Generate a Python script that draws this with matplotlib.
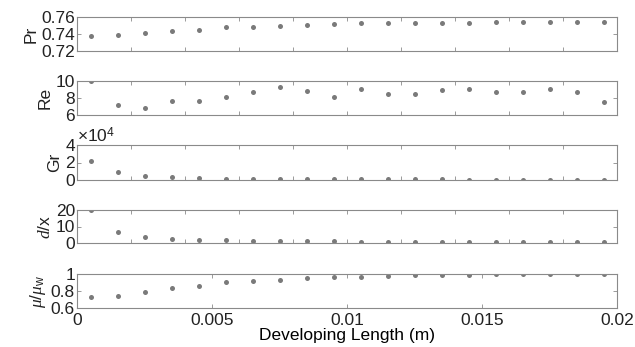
import numpy as np
import matplotlib.pyplot as plt

plt.rcParams['font.family'] = ['Liberation Sans', 'DejaVu Sans']
plt.rcParams['mathtext.fontset'] = 'custom'
plt.rcParams['mathtext.it'] = 'Liberation Serif:italic'
plt.rcParams['mathtext.rm'] = 'Liberation Sans'

# developing length positions (m)
x = np.arange(0.0005, 0.02, 0.001)

pr = [0.738, 0.7392, 0.7408, 0.7435, 0.7447, 0.7478, 0.7486, 0.7498, 0.751, 0.7522,
      0.7525, 0.7525, 0.753, 0.7533, 0.7533, 0.7537, 0.7537, 0.7537, 0.7541, 0.7541]
re = [10.0, 7.18, 6.82, 7.6, 7.65, 8.16, 8.67, 9.33, 8.86, 8.12,
      9.1, 8.43, 8.43, 8.98, 9.1, 8.75, 8.67, 9.1, 8.75, 7.57]
gr = [2.2e4, 0.86e4, 0.44e4, 0.3e4, 0.23e4, 0.16e4, 0.12e4, 0.1e4, 0.09e4, 0.08e4,
      0.07e4, 0.07e4, 0.06e4, 0.06e4, 0.05e4, 0.05e4, 0.05e4, 0.05e4, 0.05e4, 0.05e4]
dx = [19.8, 6.6, 3.8, 2.7, 2.1, 1.8, 1.5, 1.3, 1.1, 1.0,
      0.9, 0.85, 0.8, 0.75, 0.7, 0.65, 0.6, 0.6, 0.55, 0.5]
mu = [0.73, 0.74, 0.79, 0.84, 0.86, 0.905, 0.915, 0.93, 0.948, 0.964,
      0.964, 0.976, 0.984, 0.984, 0.992, 0.996, 1.0, 1.0, 1.0, 1.0]

series = [pr, re, gr, dx, mu]
labels = ['Pr', 'Re', 'Gr', r'$d/$x', r'$\mu/\mu_{\rm w}$']
ylims = [(0.72, 0.76), (6, 10), (0, 4e4), (0, 20), (0.6, 1.0)]
yticks = [[0.72, 0.74, 0.76], [6, 8, 10], [0, 2e4, 4e4], [0, 10, 20], [0.6, 0.8, 1.0]]
yticklabels = [['0.72', '0.74', '0.76'], ['6', '8', '10'], ['0', '2', '4'],
               ['0', '10', '20'], ['0.6', '0.8', '1']]

# panel extents in pixels (top, bottom)
panels = [(17, 51), (81, 115), (145, 180), (210, 243), (274, 308)]
W, H = 635, 347
fig = plt.figure(figsize=(W / 100, H / 100), dpi=100)

spine_c = '#8a8a8a'
fs = 12.5
for i, (t, b) in enumerate(panels):
    ax = fig.add_axes([77 / W, 1 - b / H, 540 / W, (b - t) / H])
    ax.plot(x, series[i], 'o', color='#7a7a7a', markersize=3.6, markeredgewidth=0)
    ax.set_xlim(0, 0.02)
    ax.set_ylim(*ylims[i])
    ax.set_yticks(yticks[i])
    ax.set_yticklabels(yticklabels[i])
    ax.tick_params(direction='in', length=3, width=0.6, colors=spine_c,
                   labelcolor='#222222', labelsize=fs, top=True, right=True, pad=1.5)
    if i < 4:
        ax.set_xticks(np.arange(0, 0.0201, 0.002))
        ax.set_xticklabels([])
    else:
        ax.set_xticks([0, 0.005, 0.01, 0.015, 0.02])
        ax.set_xticklabels(['0', '0.005', '0.01', '0.015', '0.02'])
        ax.tick_params(axis='x', pad=3.5)
        ax.set_xlabel('Developing Length (m)', fontsize=fs, labelpad=0)
    for s in ax.spines.values():
        s.set_color(spine_c)
        s.set_linewidth(0.8)
    ax.set_ylabel(labels[i], fontsize=fs, labelpad=2, color='#222222')
    if i == 2:
        ax.text(0.0, 1.0, r'$\times$10$^{4}$', transform=ax.transAxes,
                fontsize=fs, color='#222222', va='bottom', ha='left')

fig.savefig('out.png', dpi=100)
